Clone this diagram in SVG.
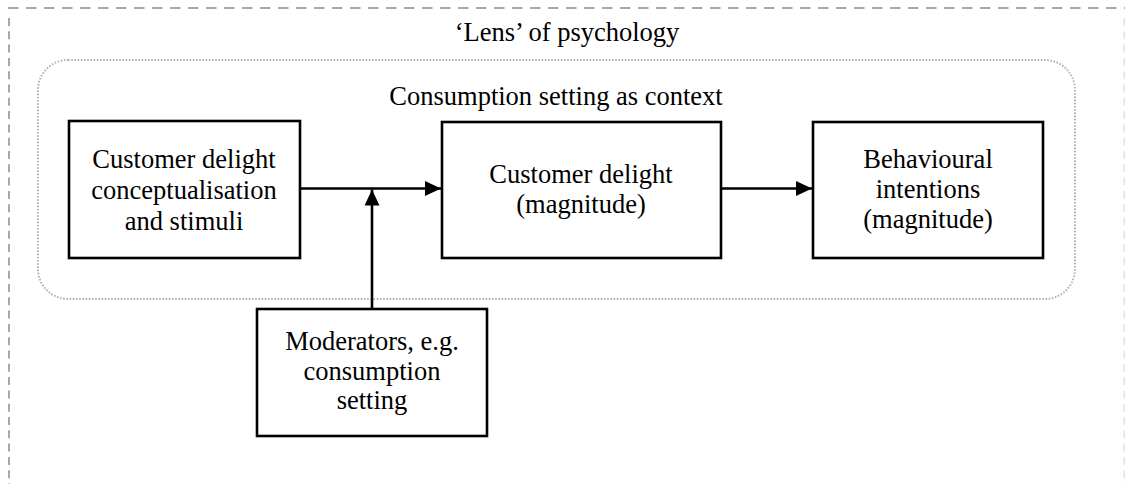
<svg xmlns="http://www.w3.org/2000/svg" width="1125" height="484" viewBox="0 0 1125 484">
  <style>
    .box { fill: #ffffff; stroke: #000000; stroke-width: 2.6; }
    .label { font-family: "Liberation Serif", "Times New Roman", serif; font-size: 26.5px; fill: #000000; text-anchor: middle; }
    .edge { fill: none; stroke: #000000; stroke-width: 2.6; }
    .frame { fill: none; stroke: #a8a8a8; stroke-width: 2; }
  </style>
  <defs>
    <marker id="arrow" viewBox="0 0 16 15" refX="16" refY="7.5" markerWidth="16" markerHeight="15" markerUnits="userSpaceOnUse" orient="auto">
      <path d="M0,0 L16,7.5 L0,15 Z" fill="#000000"/>
    </marker>
  </defs>
  <rect width="1125" height="484" fill="#ffffff"/>

  <!-- outer frame: lens of psychology -->
  <g id="lens">
    <line class="frame" x1="8" y1="8" x2="1125" y2="8" stroke-dasharray="10.5 7.5"/>
    <line class="frame" x1="9" y1="18" x2="9" y2="484" stroke-dasharray="8 5.3"/>
    <line class="frame" x1="1124.5" y1="18" x2="1124.5" y2="484" stroke-dasharray="8 5.3" opacity="0.35"/>
    <text class="label" x="567" y="41">‘Lens’ of psychology</text>
  </g>

  <!-- inner dotted frame: consumption setting -->
  <g id="context">
    <rect x="38" y="60" width="1037" height="239" rx="30" ry="30" fill="none" stroke="#b4b4b4" stroke-width="2" stroke-dasharray="1.6 1.6"/>
    <text class="label" x="556" y="105">Consumption setting as context</text>
  </g>

  <g id="stimuli">
    <rect class="box" x="69" y="121" width="231" height="137"/>
    <text class="label" x="184" y="168">Customer delight</text>
    <text class="label" x="184" y="199">conceptualisation</text>
    <text class="label" x="184" y="230">and stimuli</text>
  </g>

  <g id="delight">
    <rect class="box" x="442" y="122" width="279" height="136"/>
    <text class="label" x="581" y="183">Customer delight</text>
    <text class="label" x="581" y="213">(magnitude)</text>
  </g>

  <g id="intentions">
    <rect class="box" x="813" y="122" width="230" height="136"/>
    <text class="label" x="928" y="168">Behavioural</text>
    <text class="label" x="928" y="198">intentions</text>
    <text class="label" x="928" y="228">(magnitude)</text>
  </g>

  <g id="moderators">
    <rect class="box" x="257" y="309" width="230" height="127"/>
    <text class="label" x="372" y="350">Moderators, e.g.</text>
    <text class="label" x="372" y="380">consumption</text>
    <text class="label" x="372" y="409">setting</text>
  </g>

  <g id="connectors">
    <line class="edge" x1="300" y1="188.5" x2="441" y2="188.5" marker-end="url(#arrow)"/>
    <line class="edge" x1="721" y1="188.5" x2="812" y2="188.5" marker-end="url(#arrow)"/>
    <line class="edge" x1="372" y1="309" x2="372" y2="189.5" marker-end="url(#arrow)"/>
  </g>
</svg>
